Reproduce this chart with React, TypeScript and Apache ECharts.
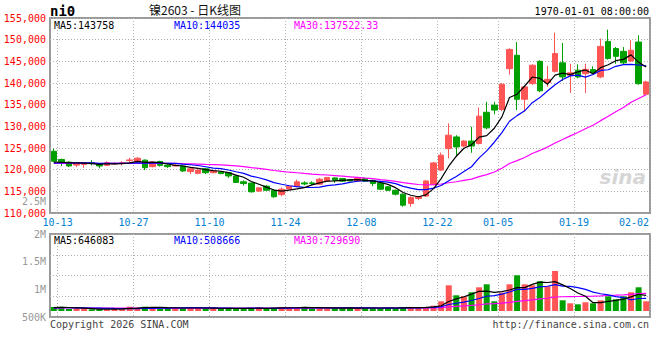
import React, { useEffect, useRef } from 'react';
import * as echarts from 'echarts';

// ---- Data ----
const dates = [
  '10-13','10-14','10-15','10-16','10-17','10-20','10-21','10-22','10-23','10-24',
  '10-27','10-28','10-29','10-30','10-31','11-03','11-04','11-05','11-06','11-07',
  '11-10','11-11','11-12','11-13','11-14','11-17','11-18','11-19','11-20','11-21',
  '11-24','11-25','11-26','11-27','11-28','12-01','12-02','12-03','12-04','12-05',
  '12-08','12-09','12-10','12-11','12-12','12-15','12-16','12-17','12-18','12-19',
  '12-22','12-23','12-24','12-25','12-26','12-29','12-30','12-31','01-05','01-06',
  '01-07','01-08','01-09','01-12','01-13','01-14','01-15','01-16','01-19','01-20',
  '01-21','01-22','01-23','01-26','01-27','01-28','01-29','01-30','02-02',
];
const xTickDates = ['10-13','10-27','11-10','11-24','12-08','12-22','01-05','01-19','02-02'];

const opens = [
  124250,122350,121750,121050,121200,121600,121200,121000,121300,121500,
  122100,121900,122200,120700,121900,121050,120850,120850,119550,119150,
  120200,119300,119500,119300,118550,117200,116900,115050,116200,115250,
  114250,115550,116200,116950,116950,116650,117350,118100,117950,117700,
  117400,118000,117550,116950,116050,115250,114350,112200,113350,113900,
  116650,119900,124850,127550,125450,126600,126050,133250,134900,133900,
  143300,146400,136250,139850,145000,140100,142700,144650,141800,142950,
  142150,143100,141400,149600,147950,147300,145100,149450,137400,
];
const closes = [
  121950,121750,120850,121600,121350,121450,120850,121600,121450,121600,
  122250,122650,120450,121750,121000,120700,121050,119700,120200,119900,
  119300,119700,119100,118550,117050,116800,114900,115800,115250,113750,
  115500,116200,117200,116700,116800,117800,118200,117550,117350,117400,
  118100,117350,116800,115500,115250,114350,111800,113600,113750,117400,
  121550,123350,127950,125250,126600,125450,132350,129650,133750,139700,
  147750,136250,139100,144100,138200,140850,146800,141400,142350,141400,
  143150,142350,148450,145650,146150,144650,147550,139850,140250,
];
const highs = [
  124900,122550,121900,121750,121600,122200,121350,121950,121700,121950,
  122750,122880,122350,121900,122050,121200,121250,121000,120300,120000,
  120400,119850,119700,119450,118650,117550,117050,116000,116400,115400,
  115880,116400,117700,117330,117330,118100,118300,118200,118100,117800,
  118330,118100,117650,117100,116200,115400,114500,113800,113900,117600,
  121800,123950,130700,127950,126800,129900,134350,135650,135650,140000,
  148000,149450,139300,144300,145250,143950,151600,149250,144450,144300,
  144450,143850,150250,152300,148300,148300,149850,151000,140500,
];
const lows = [
  121750,120850,120600,120600,120450,121000,120300,120850,121100,121000,
  121450,121800,119900,120550,120700,120400,120750,119450,119000,118950,
  119000,119150,118950,118100,116950,116300,114700,114900,115100,113500,
  113880,115400,115900,116400,116500,116500,117200,116950,117200,117300,
  117300,117200,116200,115300,115100,114050,111450,111450,112950,113700,
  116400,119700,122600,122950,125200,123900,125800,129300,132800,133500,
  141950,133750,133350,139600,137900,139100,142400,140500,137700,141100,
  137700,142100,141100,145400,144450,144400,144850,139600,137200,
];
const volumes = [
  164000,178000,84000,82000,86000,70000,72000,68000,84000,125000,
  178000,136000,176000,122000,126000,120000,124000,122000,126000,120000,
  124000,96000,94000,122000,84000,124000,126000,122000,96000,124000,
  164000,162000,122000,166000,94000,164000,96000,122000,124000,120000,
  124000,122000,126000,122000,124000,120000,164000,166000,124000,164000,
  218000,398000,1054000,644000,603000,767000,972000,1095000,398000,750000,
  1095000,1464000,1095000,1054000,1218000,1013000,1640000,439000,316000,275000,
  357000,316000,439000,603000,480000,603000,767000,972000,398000,
];
// closes / volumes of the 29 sessions before the window (estimated from the MA levels)
const priorCloses = [
  121300,121600,121200,121500,121800,121400,121100,121300,121600,121500,
  121200,121400,121700,121300,121500,121600,121200,121400,121300,121500,
  121100,121300,121400,121500,121200,121900,121600,121500,121750,
];
const priorVolumes = [
  118000,126000,110000,132000,121000,115000,128000,119000,124000,112000,
  130000,117000,122000,125000,113000,120000,127000,116000,123000,118000,
  129000,114000,121000,126000,117000,124000,131000,140000,150000,
];
const priceMaHeader = ['MA5:143758', 'MA10:144035', 'MA30:137522.33'];
const volumeMaHeader = ['MA5:646083', 'MA10:508666', 'MA30:729690'];

// ---- Style ----
const RED = '#ff5555';
const GREEN = '#00a000';
const MONO = '"DejaVu Sans Mono", monospace';
const GRID_LINE = { color: '#b0b0b0', type: [1, 2] as any, width: 1 };

function movingAverage(values: number[], prior: number[], n: number): number[] {
  const all = [...prior, ...values];
  return values.map((_, i) => {
    const end = prior.length + i + 1;
    let s = 0;
    for (let k = end - n; k < end; k++) s += all[k];
    return Math.round((s / n) * 100) / 100;
  });
}

export default function App() {
  const ref = useRef<HTMLDivElement>(null);
  useEffect(() => {
    if (!ref.current) return;
    const chart = echarts.init(ref.current, undefined, { renderer: 'svg' });

    const candles = dates.map((_, i) => [opens[i], closes[i], lows[i], highs[i]]);
    const volBars = volumes.map((v, i) => ({
      value: v,
      itemStyle: { color: closes[i] >= opens[i] ? RED : GREEN },
    }));
    const boundaries = ['', ...dates];
    const isTick = (_i: number, v: string) => xTickDates.includes(v);
    const lastDate = dates[dates.length - 1];

    const maLine = (data: number[], color: string, xi: number, yi: number) => ({
      type: 'line',
      data,
      xAxisIndex: xi,
      yAxisIndex: yi,
      showSymbol: false,
      symbol: 'none',
      lineStyle: { color, width: 1.2 },
      silent: true,
      z: 5,
    });

    const headerText = (txt: string, x: number, y: number, color: string) => ({
      type: 'text',
      x,
      y,
      style: { text: txt, fill: color, font: `10px ${MONO}`, textAlign: 'left', textVerticalAlign: 'middle' },
    });

    chart.setOption({
      animation: false,
      backgroundColor: '#ffffff',
      grid: [
        { left: 50, right: 10, top: 18, height: 195, show: true, borderColor: '#999', borderWidth: 2, backgroundColor: 'transparent' },
        { left: 50, right: 10, top: 234, height: 83, show: true, borderColor: '#999', borderWidth: 2, backgroundColor: 'transparent' },
      ],
      xAxis: [
        { type: 'category', gridIndex: 0, position: 'bottom', data: dates, boundaryGap: true, show: false },
        {
          type: 'category', gridIndex: 0, position: 'bottom', data: boundaries, boundaryGap: false,
          axisLine: { show: false }, axisTick: { show: false },
          axisLabel: {
            interval: isTick, color: '#0080d0', fontFamily: MONO, fontSize: 10, margin: 4,
            formatter: (v: string) => (v === lastDate ? `{last|${v}}` : v),
            rich: { last: { padding: [0, 32, 0, 0], color: '#0080d0', fontFamily: MONO, fontSize: 10 } },
          },
          splitLine: { show: true, interval: isTick, lineStyle: GRID_LINE },
        },
        { type: 'category', gridIndex: 1, position: 'bottom', data: dates, boundaryGap: true, show: false },
        {
          type: 'category', gridIndex: 1, position: 'bottom', data: boundaries, boundaryGap: false,
          axisLine: { show: false }, axisTick: { show: false }, axisLabel: { show: false },
          splitLine: { show: true, interval: isTick, lineStyle: GRID_LINE },
        },
      ],
      yAxis: [
        {
          type: 'value', gridIndex: 0, position: 'left', min: 110000, max: 155000, interval: 5000,
          axisLine: { show: false }, axisTick: { show: false },
          axisLabel: { color: '#ff0000', fontFamily: MONO, fontSize: 10, margin: 4 },
          splitLine: { show: true, lineStyle: GRID_LINE },
        },
        {
          type: 'value', gridIndex: 1, position: 'left', min: 0, max: 4, interval: 1,
          axisLine: { show: false }, axisTick: { show: false }, axisLabel: { show: false },
          splitLine: { show: true, lineStyle: GRID_LINE },
        },
        {
          type: 'value', gridIndex: 1, position: 'left', min: 500000, max: 2000000, interval: 500000,
          axisLine: { show: false }, axisTick: { show: false }, splitLine: { show: false },
          axisLabel: {
            color: '#999', fontFamily: MONO, fontSize: 10, margin: 4,
            formatter: (v: number) => (v >= 1000000 ? `${v / 1000000}M` : `${v / 1000}K`),
          },
        },
        { type: 'value', gridIndex: 1, position: 'left', min: -246000, max: 3157000, show: false },
      ],
      series: [
        {
          type: 'candlestick',
          xAxisIndex: 0,
          yAxisIndex: 0,
          data: candles,
          barWidth: 6,
          itemStyle: { color: RED, color0: GREEN, borderColor: RED, borderColor0: GREEN, borderWidth: 1 },
          silent: true,
        },
        maLine(movingAverage(closes, priorCloses, 30), '#ff00ff', 0, 0),
        maLine(movingAverage(closes, priorCloses, 10), '#0000ff', 0, 0),
        maLine(movingAverage(closes, priorCloses, 5), '#000000', 0, 0),
        {
          type: 'bar',
          xAxisIndex: 2,
          yAxisIndex: 3,
          data: volBars,
          barWidth: 6,
          silent: true,
        },
        maLine(movingAverage(volumes, priorVolumes, 30), '#ff00ff', 2, 3),
        maLine(movingAverage(volumes, priorVolumes, 10), '#0000ff', 2, 3),
        maLine(movingAverage(volumes, priorVolumes, 5), '#000000', 2, 3),
      ],
      graphic: [
        {
          type: 'text', x: 50, y: 11,
          style: { text: 'ni0', fill: '#000', font: `bold 14px ${MONO}`, textAlign: 'left', textVerticalAlign: 'middle' },
        },
        {
          type: 'text', x: 195, y: 9,
          style: { text: '镍2603 - 日K线图', fill: '#111', font: '12px "Noto Sans CJK SC", sans-serif', textAlign: 'center', textVerticalAlign: 'middle' },
        },
        {
          type: 'text', x: 649, y: 11,
          style: { text: '1970-01-01 08:00:00', fill: '#000', font: `10px ${MONO}`, textAlign: 'right', textVerticalAlign: 'middle' },
        },
        headerText(priceMaHeader[0], 54, 25, '#000'),
        headerText(priceMaHeader[1], 174, 25, '#0000ff'),
        headerText(priceMaHeader[2], 294, 25, '#ff00ff'),
        headerText(volumeMaHeader[0], 54, 240, '#000'),
        headerText(volumeMaHeader[1], 174, 240, '#0000ff'),
        headerText(volumeMaHeader[2], 294, 240, '#ff00ff'),
        {
          type: 'text', x: 46, y: 201,
          style: { text: '2.5M', fill: '#999', font: `10px ${MONO}`, textAlign: 'right', textVerticalAlign: 'middle' },
        },
        {
          type: 'text', x: 50, y: 324,
          style: { text: 'Copyright 2026 SINA.COM', fill: '#444', font: `10px ${MONO}`, textAlign: 'left', textVerticalAlign: 'middle' },
        },
        {
          type: 'text', x: 649, y: 324,
          style: { text: 'http://finance.sina.com.cn', fill: '#444', font: `10px ${MONO}`, textAlign: 'right', textVerticalAlign: 'middle' },
        },
        {
          type: 'text', x: 646, y: 177,
          style: { text: 'sina', fill: '#d6d6d6', font: 'italic bold 20px "DejaVu Sans", sans-serif', textAlign: 'right', textVerticalAlign: 'middle' },
          z: -1,
        },
      ],
    });
    return () => chart.dispose();
  }, []);
  return <div ref={ref} style={{ position: 'absolute', left: 0, top: 0, width: 660, height: 360 }} />;
}
